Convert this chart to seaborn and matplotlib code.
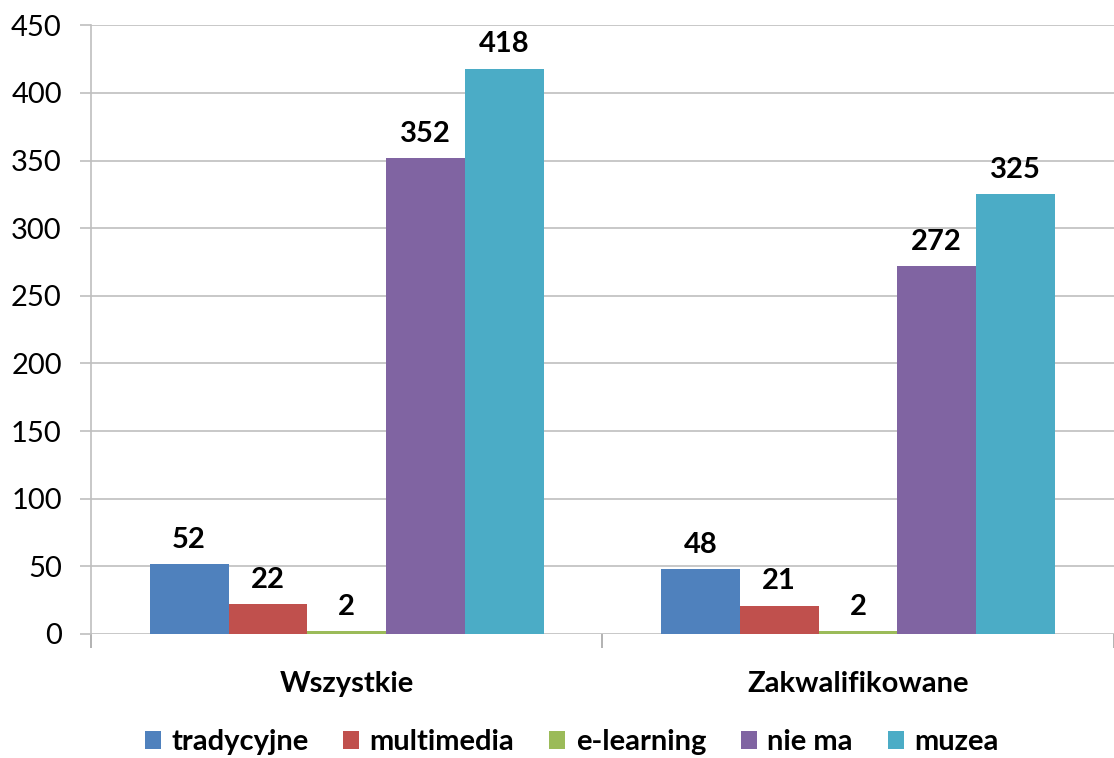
import matplotlib.pyplot as plt
import pandas as pd
import seaborn as sns

categories = ['Wszystkie', 'Zakwalifikowane']
series = ['tradycyjne', 'multimedia', 'e-learning', 'nie ma', 'muzea']
tradycyjne = [52, 48]
multimedia = [22, 21]
e_learning = [2, 2]
nie_ma = [352, 272]
muzea = [418, 325]
colors = ['#4F81BD', '#C0504D', '#9BBB59', '#8064A2', '#4BACC6']
y_ticks = [0, 50, 100, 150, 200, 250, 300, 350, 400, 450]


def main():
    values = [tradycyjne, multimedia, e_learning, nie_ma, muzea]
    rows = []
    for name, vals in zip(series, values):
        for cat, v in zip(categories, vals):
            rows.append({'kategoria': cat, 'seria': name, 'liczba': v})
    df = pd.DataFrame(rows)

    sns.set_style('white')
    plt.rcParams['font.family'] = ['Lato', 'DejaVu Sans']
    plt.rcParams['text.color'] = 'black'
    plt.rcParams['xtick.labelcolor'] = 'black'
    plt.rcParams['ytick.labelcolor'] = 'black'

    fig = plt.figure(figsize=(11.14, 7.58), dpi=100)
    ax = fig.add_axes([0.0817, 0.1636, 0.918, 0.803])
    sns.barplot(data=df, x='kategoria', y='liczba', hue='seria', order=categories,
                hue_order=series, palette=colors, width=0.77, saturation=1,
                ax=ax, edgecolor='none')

    for cont in ax.containers:
        ax.bar_label(cont, padding=8, fontsize=21, fontweight='bold', color='black')

    ax.set_ylim(0, 450)
    ax.set_xlim(-0.5, 1.5)
    ax.set_yticks(y_ticks)
    ax.yaxis.grid(True, color='#BFBFBF', linewidth=1.2)
    ax.set_axisbelow(True)
    ax.tick_params(axis='y', labelsize=21, length=8, color='#BFBFBF', width=1.2, pad=13, left=True)
    ax.set_xticks([0, 1])
    ax.set_xticklabels(categories, fontsize=21, fontweight='bold')
    ax.tick_params(axis='x', length=0, pad=27)
    ax.set_xticks([-0.5, 0.5, 1.5], minor=True)
    ax.tick_params(axis='x', which='minor', length=10, color='#A6A6A6', width=1.2, bottom=True)
    ax.set_xlabel('')
    ax.set_ylabel('')
    for s in ['top', 'right', 'bottom']:
        ax.spines[s].set_visible(False)
    ax.spines['left'].set_color('#BFBFBF')
    ax.spines['left'].set_linewidth(1.2)

    handles, labels = ax.get_legend_handles_labels()
    ax.legend(handles, labels, loc='center', bbox_to_anchor=(0.47, -0.178),
              ncol=5, frameon=False, prop={'size': 21, 'weight': 'bold'},
              handlelength=0.55, handleheight=0.55, handletextpad=0.35, columnspacing=1.2)

    fig.savefig('out.png', dpi=100)


if __name__ == '__main__':
    main()
